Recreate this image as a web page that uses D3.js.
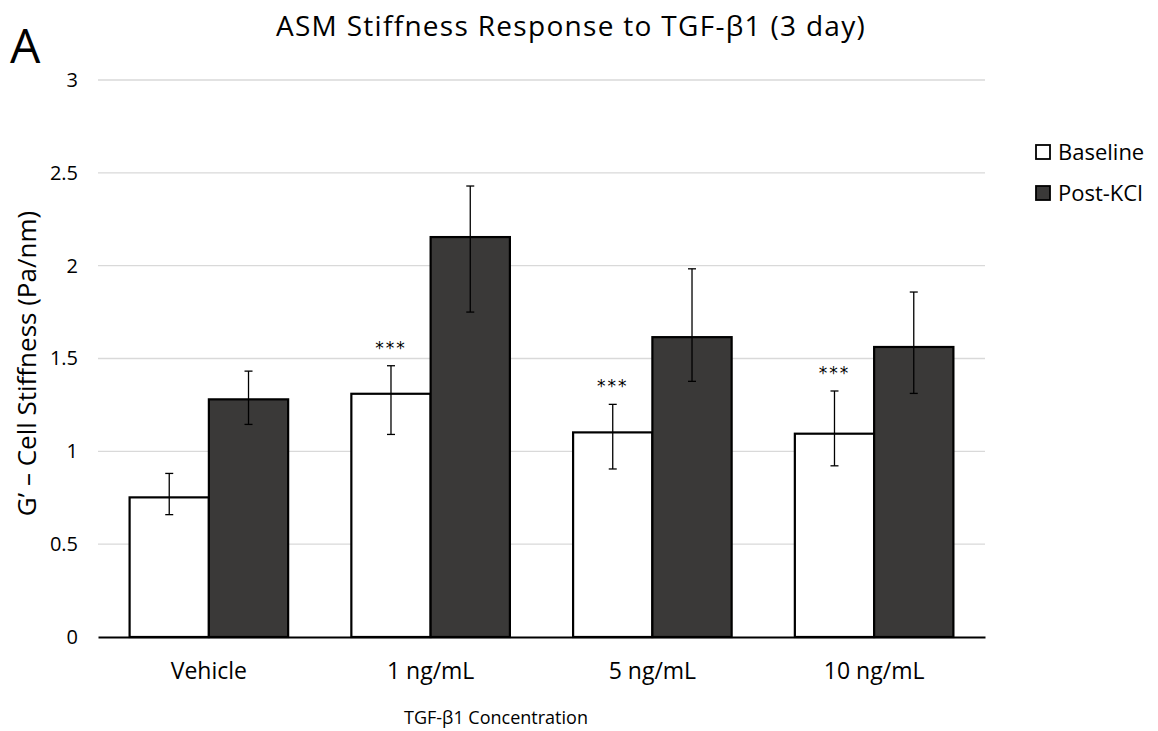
<!DOCTYPE html>
<meta charset="utf-8">
<style>
body { margin: 0; background: #fff; }
svg text { font-family: "Open Sans", Lato, sans-serif; fill: #000; }
.grid line { stroke: #d9d9d9; stroke-width: 1.3; }
.bar { stroke: #000; stroke-width: 2.2; }
.err line { stroke: #000; stroke-width: 1.3; }
</style>
<svg width="1158" height="731"></svg>
<script src="https://d3js.org/d3.v7.min.js"></script>
<script>

// data
var categories = ["Vehicle", "1 ng/mL", "5 ng/mL", "10 ng/mL"];
var seriesNames = ["Baseline", "Post-KCl"];
var seriesColors = ["#ffffff", "#3a3938"];
var baseline = [0.752, 1.310, 1.102, 1.095];
var postKCl = [1.280, 2.154, 1.615, 1.562];
var baselineErrUp = [0.129, 0.151, 0.151, 0.230];
var baselineErrDown = [0.093, 0.219, 0.197, 0.173];
var postErrUp = [0.152, 0.275, 0.368, 0.296];
var postErrDown = [0.135, 0.404, 0.238, 0.250];
var significance = ["", "***", "***", "***"];
var yTicks = [0, 0.5, 1, 1.5, 2, 2.5, 3];

var svg = d3.select("svg"),
    margin = {top: 80, left: 98, right: 173, bottom: 94},
    width = 1158 - margin.left - margin.right,
    height = 731 - margin.top - margin.bottom,
    g = svg.append("g").attr("transform", "translate(" + margin.left + "," + margin.top + ")");

var x = d3.scaleBand().domain(categories).range([0, width]).paddingInner(0.285).paddingOuter(0.1425);
var x1 = d3.scaleBand().domain(seriesNames).range([0, x.bandwidth()]);
var y = d3.scaleLinear().domain([0, 3]).range([height, 0]);

// gridlines
g.append("g").attr("class", "grid")
  .selectAll("line").data(yTicks.filter(function(d) { return d > 0; }))
  .enter().append("line")
    .attr("x1", 0).attr("x2", width)
    .attr("y1", function(d) { return y(d); })
    .attr("y2", function(d) { return y(d); });

// y tick labels
var yAxis = g.append("g")
  .call(d3.axisLeft(y).tickValues(yTicks).tickSize(0).tickPadding(20).tickFormat(d3.format("")));
yAxis.select(".domain").remove();
yAxis.selectAll("text").style("font-size", "20px").style("font-family", "Open Sans").attr("fill", "#404040");

var rows = categories.map(function(c, i) {
  return [
    {cat: c, s: seriesNames[0], v: baseline[i], up: baselineErrUp[i], dn: baselineErrDown[i], color: seriesColors[0]},
    {cat: c, s: seriesNames[1], v: postKCl[i], up: postErrUp[i], dn: postErrDown[i], color: seriesColors[1]}
  ];
});
var flat = [].concat.apply([], rows);

g.selectAll(".bar").data(flat).enter().append("rect")
  .attr("class", "bar")
  .attr("x", function(d) { return x(d.cat) + x1(d.s); })
  .attr("width", x1.bandwidth())
  .attr("y", function(d) { return y(d.v); })
  .attr("height", function(d) { return y(0) - y(d.v); })
  .attr("fill", function(d) { return d.color; });

// error bars
var err = g.selectAll(".err").data(flat).enter().append("g").attr("class", "err")
  .attr("transform", function(d) { return "translate(" + (x(d.cat) + x1(d.s) + x1.bandwidth() / 2) + ",0)"; });
err.append("line")
  .attr("y1", function(d) { return y(d.v + d.up); })
  .attr("y2", function(d) { return y(d.v - d.dn); });
err.append("line").attr("x1", -4).attr("x2", 4)
  .attr("y1", function(d) { return y(d.v + d.up); })
  .attr("y2", function(d) { return y(d.v + d.up); });
err.append("line").attr("x1", -4).attr("x2", 4)
  .attr("y1", function(d) { return y(d.v - d.dn); })
  .attr("y2", function(d) { return y(d.v - d.dn); });

// significance stars
g.selectAll(".sig").data(categories).enter().append("text")
  .attr("class", "sig")
  .attr("x", function(c) { return x(c) + x1(seriesNames[0]) + x1.bandwidth() / 2; })
  .attr("y", function(c, i) { return y(baseline[i] + baselineErrUp[i]) - 12; })
  .attr("text-anchor", "middle")
  .style("font-family", "DejaVu Sans, sans-serif")
  .style("font-size", "17px")
  .style("letter-spacing", "2px")
  .text(function(c, i) { return significance[i]; });

// x axis
var xAxis = g.append("g").attr("transform", "translate(0," + height + ")")
  .call(d3.axisBottom(x).tickSize(0).tickPadding(26));
xAxis.select(".domain").attr("stroke", "#000").attr("stroke-width", 2.2);
xAxis.selectAll("text").style("font-size", "23px").style("font-family", "Open Sans");

// titles
svg.append("text")
  .attr("x", 571).attr("y", 36)
  .attr("text-anchor", "middle")
  .style("font-size", "28px")
  .style("letter-spacing", "1.3px")
  .text("ASM Stiffness Response to TGF-\u03b21 (3 day)");

svg.append("text")
  .attr("x", 10).attr("y", 63)
  .style("font-size", "48px")
  .text("A");

svg.append("text")
  .attr("transform", "translate(36," + (margin.top + height / 2 + 5) + ") rotate(-90)")
  .attr("text-anchor", "middle")
  .style("font-size", "26px")
  .text("G\u2019 \u2013 Cell Stiffness (Pa/nm)");

svg.append("text")
  .attr("x", 496).attr("y", 724)
  .attr("text-anchor", "middle")
  .style("font-size", "18px")
  .text("TGF-\u03b21 Concentration");

// legend
var legend = svg.append("g").attr("transform", "translate(1036,145)");
var li = legend.selectAll("g").data(seriesNames).enter().append("g")
  .attr("transform", function(d, i) { return "translate(0," + i * 41 + ")"; });
li.append("rect")
  .attr("width", 14).attr("height", 14)
  .attr("fill", function(d, i) { return seriesColors[i]; })
  .attr("stroke", "#000").attr("stroke-width", 1.8);
li.append("text")
  .attr("x", 22).attr("y", 15)
  .style("font-size", "22px")
  .text(function(d) { return d; });

</script>
